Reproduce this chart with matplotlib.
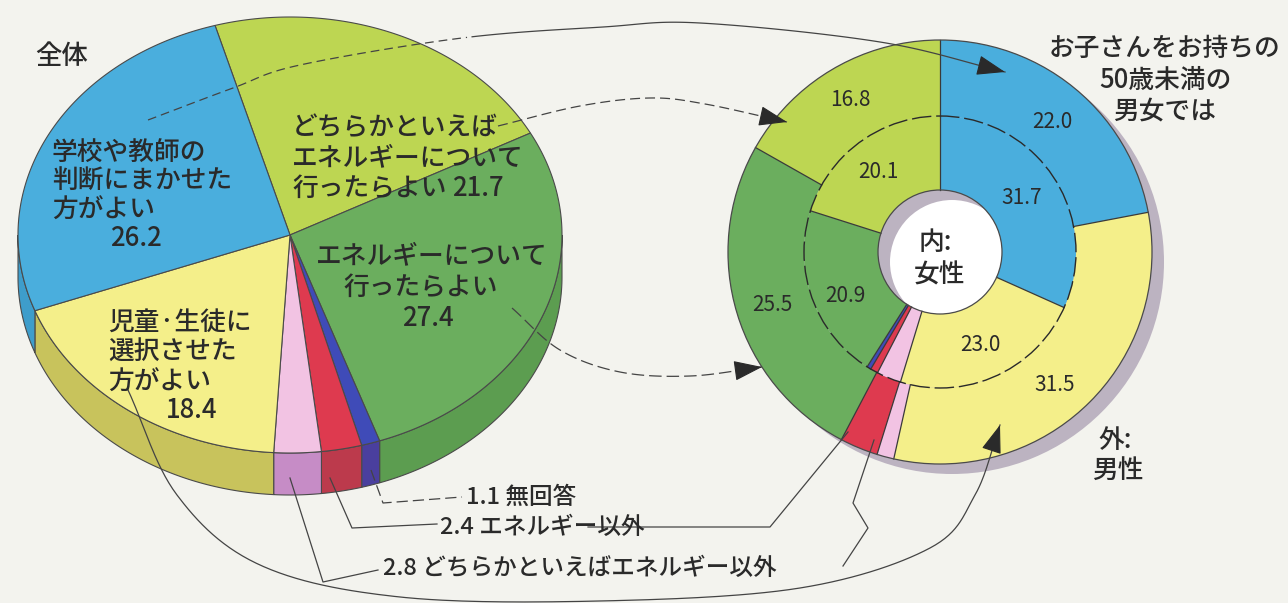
import numpy as np
import matplotlib
matplotlib.use('Agg')
import matplotlib.pyplot as plt
from matplotlib.patches import Polygon, Wedge, Circle

plt.rcParams['font.family'] = ['Noto Sans CJK JP', 'DejaVu Sans']

# ---------------- data ----------------
categories = ['学校や教師の判断にまかせた方がよい',
              'どちらかといえばエネルギーについて行ったらよい',
              'エネルギーについて行ったらよい',
              '無回答',
              'エネルギー以外',
              'どちらかといえばエネルギー以外',
              '児童・生徒に選択させた方がよい']
total_pct = [26.2, 21.7, 27.4, 1.1, 2.4, 2.8, 18.4]      # 全体
male_pct = [22.0, 16.8, 25.5, 0.0, 2.9, 1.3, 31.5]       # 外: 男性
female_pct = [31.7, 20.1, 20.9, 0.5, 0.9, 2.9, 23.0]     # 内: 女性

top_colors = ['#4AAEDD', '#BDD652', '#6BAE5E', '#3F4BB8', '#DE3A4F', '#F2C3E3', '#F4EF8A']
side_colors = ['#3E9DCB', '#A7BE45', '#5C9D50', '#4A3F9E', '#BC3A4C', '#C68CC6', '#C8C35C']

left_order = [1, 2, 3, 4, 5, 6, 0]   # clockwise from the top boundary
ring_order = [0, 6, 5, 4, 3, 2, 1]   # clockwise from 12 o'clock

BG = '#F3F3EE'
INK = '#2A2A2A'
LINE = '#444444'

fig = plt.figure(figsize=(12.88, 6.03), dpi=100, facecolor=BG)
ax = fig.add_axes([0, 0, 1, 1])
ax.set_facecolor(BG)

# ---------------- left: tilted 3D pie ----------------
cx, cy, a, b, depth = 290, 235, 272, 218, 42
start = 106

def ept(t, dz=0.0):
    t = np.radians(np.atleast_1d(t))
    return np.column_stack([cx + a * np.cos(t), cy - b * np.sin(t) + dz])

vals = np.array(total_pct)[left_order]
ang = start - 360 * np.concatenate([[0], np.cumsum(vals)]) / vals.sum()

for k, idx in enumerate(left_order):
    t1, t2 = ang[k], ang[k + 1]
    lo, hi = max(t2, -180), min(t1, 0)
    if hi > lo:
        ts = np.linspace(hi, lo, 80)
        poly = np.vstack([ept(ts), ept(ts[::-1], depth)])
        ax.add_patch(Polygon(poly, closed=True, fc=side_colors[idx], ec='#4A4A4A', lw=0.8, zorder=2))

for k, idx in enumerate(left_order):
    t1, t2 = ang[k], ang[k + 1]
    ts = np.linspace(t1, t2, 150)
    poly = np.vstack([[cx, cy], ept(ts)])
    ax.add_patch(Polygon(poly, closed=True, fc=top_colors[idx], ec='#4A4A4A', lw=0.8, zorder=3))

# ---------------- right: double donut ----------------
dcx, dcy = 940, 252
R_out, R_mid, R_hole = 212, 136, 62

ax.add_patch(Circle((dcx, dcy), R_hole, fc='white', ec='none', zorder=1))
ax.add_patch(Wedge((dcx + 12, dcy + 10), R_out, 0, 360, width=R_out - R_hole,
                   fc='#BCB3C1', ec='none', zorder=1))

def ring(values, r, w):
    v = np.array(values)[ring_order]
    cols = np.array(top_colors)[ring_order]
    keep = v > 0
    wedges, _ = ax.pie(v[keep], colors=list(cols[keep]), radius=r, center=(dcx, dcy),
                       startangle=-90, counterclock=True,
                       wedgeprops=dict(width=w, edgecolor='none', zorder=2))
    return wedges

w_out = ring(male_pct, R_out, R_out - R_mid)
w_in = ring(female_pct, R_mid, R_mid - R_hole)

for wl, r0, r1 in ((w_out, R_mid, R_out), (w_in, R_hole, R_mid)):
    for w in wl:
        t = np.radians(w.theta1)
        ax.plot([dcx + r0 * np.cos(t), dcx + r1 * np.cos(t)],
                [dcy + r0 * np.sin(t), dcy + r1 * np.sin(t)], color='#3A3A3A', lw=0.9, zorder=4)

ax.add_patch(Circle((dcx, dcy), R_out, fc='none', ec='#4A4A4A', lw=0.9, zorder=4))
ax.add_patch(Circle((dcx, dcy), R_hole, fc='none', ec='#4A4A4A', lw=0.9, zorder=4))
ax.add_patch(Circle((dcx, dcy), R_mid, fc='none', ec='#2A2A2A', lw=1.0,
                    ls=(0, (14, 3.5)), zorder=4))

# ---------------- connectors ----------------
def spline(pts, n=30):
    P = np.array(pts, float)
    P = np.vstack([2 * P[0] - P[1], P, 2 * P[-1] - P[-2]])
    out = []
    for i in range(1, len(P) - 2):
        p0, p1, p2, p3 = P[i - 1], P[i], P[i + 1], P[i + 2]
        t = np.linspace(0, 1, n, endpoint=False)[:, None]
        out.append(0.5 * ((2 * p1) + (-p0 + p2) * t + (2 * p0 - 5 * p1 + 4 * p2 - p3) * t ** 2
                          + (-p0 + 3 * p1 - 3 * p2 + p3) * t ** 3))
    out.append(P[-2][None])
    return np.vstack(out)

def arrowhead(curve):
    ax.annotate('', xy=curve[-1], xytext=curve[-6],
                arrowprops=dict(arrowstyle='-|>,head_length=0.9,head_width=0.32',
                                color='#2A2A2A', lw=0.8, shrinkA=0, shrinkB=0,
                                mutation_scale=20), zorder=6)

# blue -> outer blue
c1 = spline([(148, 120), (233, 88), (300, 65), (462, 38), (603, 27), (700, 23),
             (880, 42), (1005, 72)])
inside = c1[:, 0] < 470
ax.plot(c1[inside, 0], c1[inside, 1], color=LINE, lw=0.9, ls=(0, (7, 4)), zorder=5)
ax.plot(c1[~inside, 0], c1[~inside, 1], color=LINE, lw=0.9, zorder=5)
arrowhead(c1)

# light green -> outer light green
c2 = spline([(498, 126), (580, 106), (650, 98), (705, 104), (787, 122)])
ax.plot(c2[:, 0], c2[:, 1], color=LINE, lw=0.9, ls=(0, (8, 4)), zorder=5)
arrowhead(c2)

# green -> outer green
c3 = spline([(512, 308), (560, 350), (620, 372), (690, 376), (762, 367)])
ax.plot(c3[:, 0], c3[:, 1], color=LINE, lw=0.9, ls=(0, (10, 4)), zorder=5)
arrowhead(c3)

# yellow -> outer yellow
c4 = spline([(128, 390), (177, 495), (260, 565), (400, 597), (600, 601), (800, 588),
             (930, 548), (975, 495), (1000, 425)])
ax.plot(c4[:, 0], c4[:, 1], color=LINE, lw=0.9, zorder=5)
arrowhead(c4)

# small slices leaders
ax.plot([371, 383, 462], [470, 503, 497], color=LINE, lw=0.9, ls=(0, (9, 4)), zorder=5)
ax.plot([330, 352, 437], [478, 528, 524], color=LINE, lw=0.9, zorder=5)
ax.plot([290, 323, 378], [478, 582, 570], color=LINE, lw=0.9, zorder=5)
ax.plot([588, 770, 848], [527, 527, 432], color=LINE, lw=0.9, zorder=5)
ax.plot([843, 868, 853, 874], [566, 528, 503, 440], color=LINE, lw=0.9, zorder=5)

# ---------------- texts ----------------
FS = 18.5
def txt(x, y, s, size=FS, ha='left'):
    ax.text(x, y, s, fontsize=size, color=INK, ha=ha, va='center', zorder=7,
            fontweight='medium')

txt(35, 57, '全体', 19)
txt(52, 152, '学校や教師の')
txt(52, 181, '判断にまかせた')
txt(52, 210, '方がよい')
txt(136, 238, f'{total_pct[0]:.1f}', ha='center')

txt(292, 127, 'どちらかといえば')
txt(292, 158, 'エネルギーについて')
txt(292, 188, '行ったらよい')
txt(478, 188, f'{total_pct[1]:.1f}', ha='center')

txt(316, 256, 'エネルギーについて')
txt(343, 287, '行ったらよい')
txt(428, 318, f'{total_pct[2]:.1f}', ha='center')

txt(108, 322, '児童·生徒に')
txt(108, 352, '選択させた')
txt(108, 382, '方がよい')
txt(192, 410, f'{total_pct[6]:.1f}', ha='center')

txt(466, 497, f'{total_pct[3]:.1f} 無回答', 17)
txt(440, 527, f'{total_pct[4]:.1f} エネルギー以外', 17)
txt(383, 568, f'{total_pct[5]:.1f} どちらかといえばエネルギー以外', 17)

# donut values
NS = 15
def num(x, y, v):
    ax.text(x, y, f'{v:.1f}', fontsize=NS, color=INK, ha='center', va='center', zorder=7)

num(850, 100, male_pct[1])
num(1052, 122, male_pct[0])
num(878, 172, female_pct[1])
num(1022, 198, female_pct[0])
num(845, 296, female_pct[2])
num(772, 305, male_pct[2])
num(980, 345, female_pct[6])
num(1055, 385, male_pct[6])

txt(1165, 48, 'お子さんをお持ちの', ha='center')
txt(1165, 80, '50歳未満の', ha='center')
txt(1165, 111, '男女では', ha='center')

txt(935, 243, '内:', ha='center')
txt(940, 275, '女性', ha='center')
txt(1115, 440, '外:', ha='center')
txt(1118, 470, '男性', ha='center')

ax.set_xlim(0, 1288)
ax.set_ylim(603, 0)
ax.set_aspect('auto')
ax.axis('off')
fig.savefig('out.png', dpi=100, facecolor=BG)
